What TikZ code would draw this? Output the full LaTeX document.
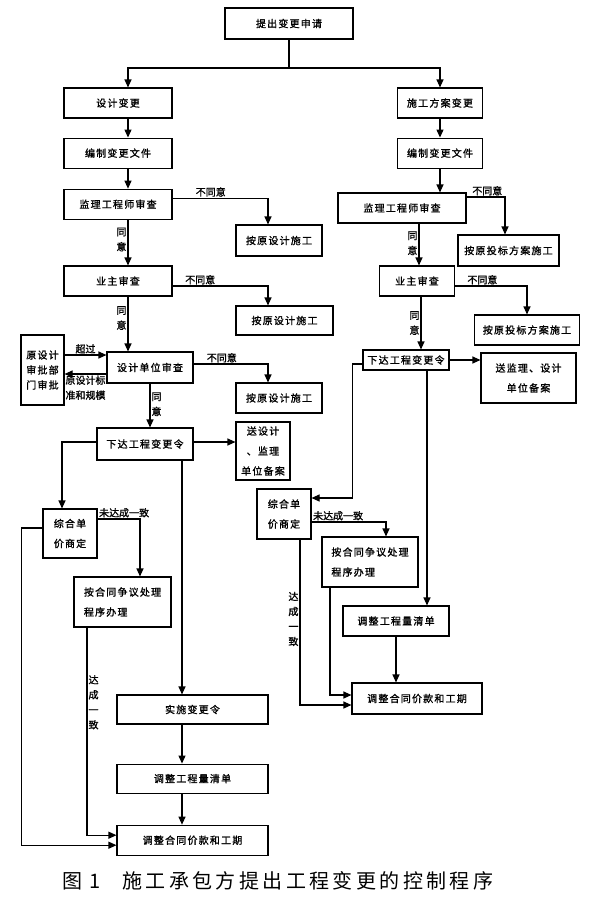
\documentclass[tikz,border=0pt]{standalone}
\usepackage{fontspec}
\usepackage{tikz}
\usetikzlibrary{arrows.meta,positioning}
\newfontfamily\cjk[LetterSpace=12,FakeBold=1.2]{Noto Sans CJK SC}
\newfontfamily\cjklbl[FakeBold=1.2]{Noto Sans CJK SC}
\newfontfamily\cjkcap[LetterSpace=17]{Noto Sans CJK SC}
\tikzset{
  cp_box/.style = {rectangle, draw=black, line width=1.1pt, inner sep=0pt,
    align=center, font=\cjk\fontsize{10}{20}\selectfont},% boite
  cp_lbl/.style = {inner sep=1pt, align=center,
    font=\cjklbl\fontsize{10}{15}\selectfont},% etiquette
  cp_arr/.style = {->, line width=1.1pt},% fleche
  cp_lin/.style = {line width=1.1pt}% trait simple
}
\begin{document}
\begin{tikzpicture}[>={Triangle[length=8pt,width=7pt]}, x=1pt, y=-1pt]
    \useasboundingbox (0,0) rectangle (591,903);
    \node [cp_box, minimum width=128pt, minimum height=31pt] (req) at (289,23.5) {提出变更申请};
    % branche gauche
    \node [cp_box, minimum width=108pt, minimum height=30pt] (dv) at (118,103) {设计变更};
    \node [cp_box, minimum width=108pt, minimum height=30pt, below=19pt of dv] (edL) {编制变更文件};
    \node [cp_box, minimum width=108pt, minimum height=30pt, below=20pt of edL] (supL) {监理工程师审查};
    \node [cp_box, minimum width=86pt, minimum height=31pt] (keepL1) at (279,240.5) {按原设计施工};
    \node [cp_box, minimum width=108pt, minimum height=30pt] (ownL) at (118,281) {业主审查};
    \node [cp_box, minimum width=97pt, minimum height=29pt] (keepL2) at (284.5,320.5) {按原设计施工};
    \node [cp_box, minimum width=86pt, minimum height=31pt] (desL) at (150,367.5) {设计单位审查};
    \node [cp_box, minimum width=43pt, minimum height=70pt,
      font=\cjk\fontsize{10}{15}\selectfont] (orig) at (42.5,370) {原设计\\审批部\\门审批};
    \node [cp_box, minimum width=86pt, minimum height=30pt] (keepL3) at (279,398) {按原设计施工};
    \node [cp_box, minimum width=96pt, minimum height=32pt] (ordL) at (145,444) {下达工程变更令};
    \node [cp_box, minimum width=54pt, minimum height=58pt] (fileL) at (263,451) {送设计\\、监理\\单位备案};
    \node [cp_box, minimum width=54pt, minimum height=49pt, align=left] (priceL) at (70,533.5) {综合单\\价商定};
    \node [cp_box, minimum width=97pt, minimum height=50pt, align=left] (dispL) at (122.5,602) {按合同争议处理\\程序办理};
    \node [cp_box, minimum width=151pt, minimum height=29pt] (execL) at (192.5,709.5) {实施变更令};
    \node [cp_box, minimum width=151pt, minimum height=29pt, below=39pt of execL] (bqL) {调整工程量清单};
    \node [cp_box, minimum width=151pt, minimum height=30pt, below=31pt of bqL] (adjL) {调整合同价款和工期};
    % branche droite
    \node [cp_box, minimum width=85pt, minimum height=30pt] (sc) at (440,103) {施工方案变更};
    \node [cp_box, minimum width=85pt, minimum height=30pt, below=19pt of sc] (edR) {编制变更文件};
    \node [cp_box, minimum width=128pt, minimum height=30pt] (supR) at (402,208) {监理工程师审查};
    \node [cp_box, minimum width=101pt, minimum height=31pt] (keepR1) at (508.5,250.5) {按原投标方案施工};
    \node [cp_box, minimum width=75pt, minimum height=30pt] (ownR) at (417,281) {业主审查};
    \node [cp_box, minimum width=105pt, minimum height=30pt] (keepR2) at (527,330) {按原投标方案施工};
    \node [cp_box, minimum width=86pt, minimum height=20pt] (ordR) at (406,360) {下达工程变更令};
    \node [cp_box, minimum width=95pt, minimum height=50pt] (fileR) at (528.5,378) {送监理、设计\\单位备案};
    \node [cp_box, minimum width=54pt, minimum height=50pt, align=left] (priceR) at (284,514) {综合单\\价商定};
    \node [cp_box, minimum width=96pt, minimum height=50pt, align=left] (dispR) at (370,562) {按合同争议处理\\程序办理};
    \node [cp_box, minimum width=106pt, minimum height=30pt] (bqR) at (396,621) {调整工程量清单};
    \node [cp_box, minimum width=130pt, minimum height=31pt] (adjR) at (417,698.5) {调整合同价款和工期};
    % legende
    \node [anchor=west, inner sep=0pt, font=\cjkcap\fontsize{20}{20}\selectfont] (cap) at (62,881)
      {图\hspace{7pt}1\hspace{22pt}施工承包方提出工程变更的控制程序};

    \coordinate (fork) at (289,68);
    \draw [cp_lin] (req) -- (fork);
    \draw [cp_arr] (fork) -| ([xshift=10pt]dv.north);
    \draw [cp_arr] (fork) -| (sc.north);
    % gauche
    \draw [cp_arr] ([xshift=10pt]dv.south) -- ([xshift=10pt]edL.north);
    \draw [cp_arr] ([xshift=10pt]edL.south) -- ([xshift=10pt]supL.north);
    \draw [cp_arr] ([yshift=6pt]supL.east) -| ([xshift=-11pt]keepL1.north)
      node [cp_lbl, pos=0.2, above] {不同意};
    \draw [cp_arr] ([xshift=10pt]supL.south) -- ([xshift=10pt]ownL.north)
      node [cp_lbl, pos=0.43, left] {同\\意};
    \draw [cp_arr] ([yshift=-5pt]ownL.east) -| ([xshift=-16.5pt]keepL2.north)
      node [cp_lbl, pos=0.145, above] {不同意};
    \draw [cp_arr] ([xshift=10pt]ownL.south) -- ([xshift=-22pt]desL.north)
      node [cp_lbl, pos=0.39, left] {同\\意};
    \draw [cp_arr] ([yshift=15pt]orig.east) -- ([yshift=12.5pt]desL.west)
      node [cp_lbl, midway, above] {超过};
    \draw [cp_arr] ([yshift=-6.5pt]desL.west) -- ([yshift=-4pt]orig.east)
      node [cp_lbl, midway, below, align=left] {原设计标\\准和规模};
    \draw [cp_arr] ([yshift=3.5pt]desL.east) -| ([xshift=-11pt]keepL3.north)
      node [cp_lbl, pos=0.19, above] {不同意};
    \draw [cp_arr] (desL.south) -- ([xshift=5pt]ordL.north)
      node [cp_lbl, pos=0.47, right] {同\\意};
    \draw [cp_arr] ([yshift=2pt]ordL.east) -- ([yshift=9pt]fileL.west);
    \draw [cp_arr] ([yshift=2pt]ordL.west) -| ([xshift=-8pt]priceL.north);
    \draw [cp_arr] ([xshift=37pt]ordL.south) -- ([xshift=-10.5pt]execL.north);
    \draw [cp_arr] ([yshift=14.5pt]priceL.east) -| ([xshift=17.5pt]dispL.north)
      node [cp_lbl, at start, above right] {未达成一致};
    \draw [cp_arr] ([yshift=5.5pt]priceL.west) -- ++(-21,0) |- ([yshift=-5pt]adjL.west);
    \draw [cp_arr] ([xshift=-35.5pt]dispL.south) |- ([yshift=5pt]adjL.west)
      node [cp_lbl, pos=0.18, right] {达\\成\\一\\致};
    \draw [cp_arr] ([xshift=-10.5pt]execL.south) -- ([xshift=-10.5pt]bqL.north);
    \draw [cp_arr] ([xshift=-10.5pt]bqL.south) -- ([xshift=-10.5pt]adjL.north);
    % droite
    \draw [cp_arr] (sc) -- (edR);
    \draw [cp_arr] (edR.south) -- (edR.south |- supR.north);
    \draw [cp_arr] ([yshift=11pt]supR.east) -| ([xshift=-3.5pt]keepR1.north)
      node [cp_lbl, pos=0.27, above] {不同意};
    \draw [cp_arr] ([xshift=17pt]supR.south) -- ([xshift=2pt]ownR.north)
      node [cp_lbl, pos=0.47, left] {同\\意};
    \draw [cp_arr] ([yshift=-5pt]ownR.east) -| (keepR2.north)
      node [cp_lbl, pos=0.19, above] {不同意};
    \draw [cp_arr] ([xshift=4pt]ownR.south) -- ([xshift=15pt]ordR.north)
      node [cp_lbl, pos=0.5, left] {同\\意};
    \draw [cp_arr] (ordR.east) -- ([yshift=18pt]fileR.west);
    \draw [cp_arr] ([yshift=-4pt]ordR.west) -- ++(-10,0) |- ([yshift=16pt]priceR.east);
    \draw [cp_arr] ([xshift=21pt]ordR.south) -- ([xshift=31pt]bqR.north);
    \draw [cp_arr] ([yshift=-8pt]priceR.east) -| ([xshift=16pt]dispR.north)
      node [cp_lbl, at start, above right] {未达成一致};
    \draw [cp_arr] ([xshift=-40pt]dispR.south) |- ([yshift=3.5pt]adjR.west);
    \draw [cp_arr] ([xshift=16pt]priceR.south) |- ([yshift=-6.5pt]adjR.west)
      node [cp_lbl, pos=0.24, left] {达\\成\\一\\致};
    \draw [cp_arr] (bqR.south) -- ([xshift=-21pt]adjR.north);
\end{tikzpicture}
\end{document}
